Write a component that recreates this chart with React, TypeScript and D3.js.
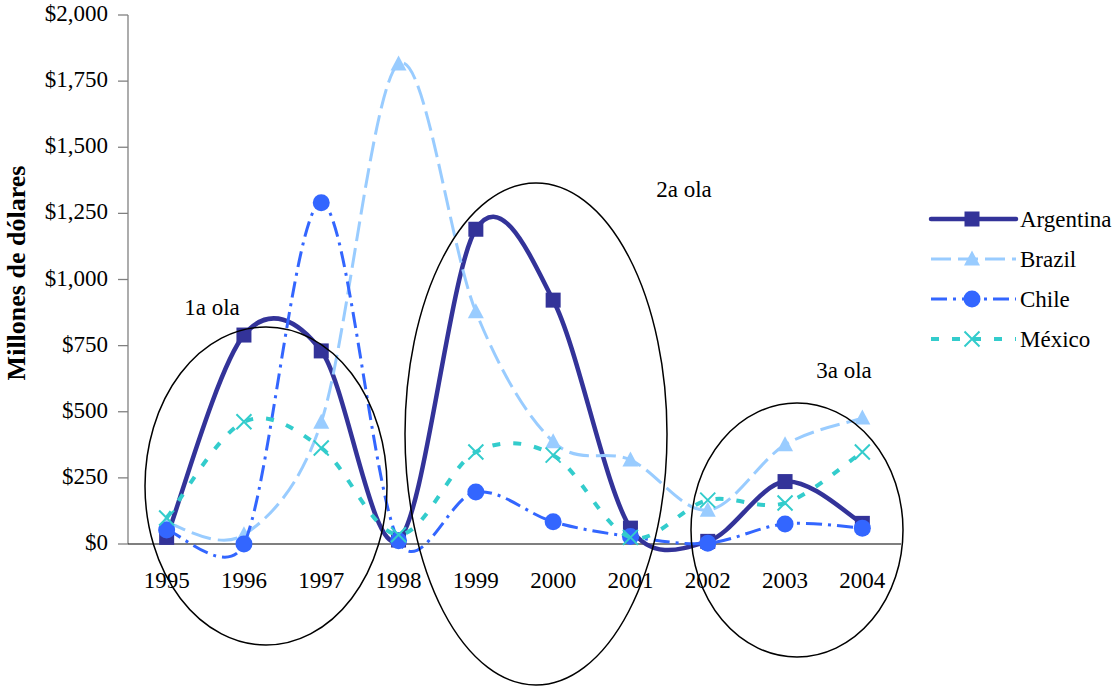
import React from "react";
import * as d3 from "d3";

const years = ["1995","1996","1997","1998","1999","2000","2001","2002","2003","2004"];
const argentina = [25, 790, 730, 15, 1190, 922, 60, 10, 236, 78];
const brazil = [80, 35, 460, 1815, 878, 387, 318, 128, 375, 476];
const chile = [53, 0, 1290, 12, 197, 84, 28, 3, 76, 60];
const mexico = [98, 462, 363, 35, 348, 336, 25, 166, 155, 348];
const yTicks = [0, 250, 500, 750, 1000, 1250, 1500, 1750, 2000];

const series = [
  { name: "Argentina", values: argentina, color: "#333399", width: 4.5, dash: "", marker: "square" },
  { name: "Brazil", values: brazil, color: "#99CCFF", width: 3, dash: "20,7", marker: "triangle" },
  { name: "Chile", values: chile, color: "#3366FF", width: 3, dash: "16,6,3,6", marker: "circle" },
  { name: "México", values: mexico, color: "#33CCCC", width: 4, dash: "8,13", marker: "x" },
];

const ellipses = [
  { cx: 266, cy: 486, rx: 121, ry: 159, label: "1a ola", lx: 212, ly: 315 },
  { cx: 536, cy: 434, rx: 131, ry: 251, label: "2a ola", lx: 684, ly: 197 },
  { cx: 797, cy: 530, rx: 106, ry: 127, label: "3a ola", lx: 844, ly: 378 },
];

// Excel-like smoothed line: Catmull-Rom tangents (1/6) with control arms clamped to half the segment length
function smoothPath(pts: [number, number][]) {
  const p = d3.path();
  const n = pts.length;
  const tan = pts.map((_, i) => {
    const a = pts[Math.max(0, i - 1)];
    const b = pts[Math.min(n - 1, i + 1)];
    return [b[0] - a[0], b[1] - a[1]];
  });
  p.moveTo(pts[0][0], pts[0][1]);
  for (let i = 0; i < n - 1; i++) {
    const P1 = pts[i], P2 = pts[i + 1];
    const seg = Math.hypot(P2[0] - P1[0], P2[1] - P1[1]);
    const arm = (t: number[]) => {
      const len = Math.hypot(t[0], t[1]) / 6;
      const lim = seg * 0.5;
      const f = len > lim && len > 0 ? lim / len : 1;
      return [t[0] / 6 * f, t[1] / 6 * f];
    };
    const a1 = arm(tan[i]);
    const a2 = arm(tan[i + 1]);
    p.bezierCurveTo(P1[0] + a1[0], P1[1] + a1[1], P2[0] - a2[0], P2[1] - a2[1], P2[0], P2[1]);
  }
  return p.toString();
}

function Marker({ type, x, y, color }: { type: string; x: number; y: number; color: string }) {
  if (type === "square") return <rect x={x - 7.5} y={y - 7.5} width={15} height={15} fill={color} />;
  if (type === "triangle")
    return <path d={`M${x},${y - 8.5}L${x + 8},${y + 6.5}L${x - 8},${y + 6.5}Z`} fill={color} />;
  if (type === "circle") return <circle cx={x} cy={y} r={8.5} fill={color} />;
  return (
    <path d={`M${x - 7.5},${y - 7.5}L${x + 7.5},${y + 7.5}M${x - 7.5},${y + 7.5}L${x + 7.5},${y - 7.5}`} stroke={color} strokeWidth={2} />
  );
}

export default function App() {
  const W = 1115, H = 687;
  const x = d3.scaleBand().domain(years).range([128, 901]);
  const y = d3.scaleLinear().domain([0, 2000]).range([544, 15]);
  const cx = (d: string) => (x(d) as number) + x.bandwidth() / 2;
  const font = "'Liberation Serif', 'Times New Roman', serif";
  const fmt = (v: number) => "$" + d3.format(",")(v);
  const legendY = [219, 259, 299, 339];
  return (
    <svg width={W} height={H} style={{ position: "absolute", left: 0, top: 0 }} fontFamily={font}>
      <rect width={W} height={H} fill="#fff" />
      <line x1={128} x2={128} y1={15} y2={544} stroke="#808080" strokeWidth={1.3} />
      {yTicks.map((t) => (
        <g key={t}>
          <line x1={118} x2={128} y1={y(t)} y2={y(t)} stroke="#808080" strokeWidth={1.3} />
          <text x={108} y={y(t) + 6} textAnchor="end" fontSize={23}>{fmt(t)}</text>
        </g>
      ))}
      <line x1={128} x2={901} y1={544} y2={544} stroke="#000" strokeWidth={1.2} />
      {years.map((yr) => (
        <text key={yr} x={cx(yr)} y={588} textAnchor="middle" fontSize={23}>{yr}</text>
      ))}
      <text transform="translate(25,273) rotate(-90)" textAnchor="middle" fontSize={26} fontWeight="bold">
        Millones de dólares
      </text>
      {series.map((s) => (
        <g key={s.name}>
          <path d={smoothPath(s.values.map((v, i) => [cx(years[i]), y(v)] as [number, number]))} fill="none"
            stroke={s.color} strokeWidth={s.width} strokeDasharray={s.dash} strokeLinejoin="round" />
          {s.values.map((v, i) => (
            <Marker key={i} type={s.marker} x={cx(years[i])} y={y(v)} color={s.color} />
          ))}
        </g>
      ))}
      {ellipses.map((e) => (
        <g key={e.label}>
          <ellipse cx={e.cx} cy={e.cy} rx={e.rx} ry={e.ry} fill="none" stroke="#000" strokeWidth={1.5} />
          <text x={e.lx} y={e.ly} textAnchor="middle" fontSize={23}>{e.label}</text>
        </g>
      ))}
      {series.map((s, i) => (
        <g key={s.name}>
          <line x1={931} x2={1016} y1={legendY[i]} y2={legendY[i]} stroke={s.color} strokeWidth={s.width}
            strokeDasharray={s.dash} strokeLinecap={i === 0 ? "round" : "butt"} />
          <Marker type={s.marker} x={972} y={legendY[i]} color={s.color} />
          <text x={1020} y={legendY[i] + 8} fontSize={23}>{s.name}</text>
        </g>
      ))}
    </svg>
  );
}
